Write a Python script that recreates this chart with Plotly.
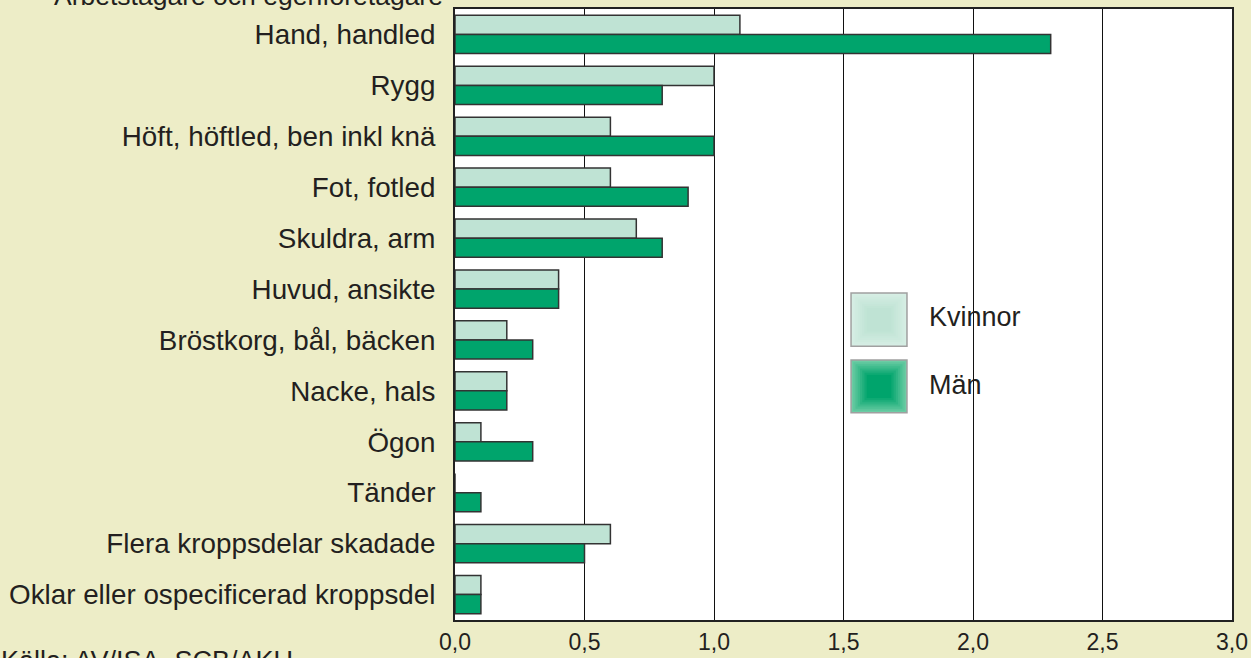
import plotly.graph_objects as go

kroppsdelar = [
    "Hand, handled",
    "Rygg",
    "Höft, höftled, ben inkl knä",
    "Fot, fotled",
    "Skuldra, arm",
    "Huvud, ansikte",
    "Bröstkorg, bål, bäcken",
    "Nacke, hals",
    "Ögon",
    "Tänder",
    "Flera kroppsdelar skadade",
    "Oklar eller ospecificerad kroppsdel",
]
kvinnor = [1.1, 1.0, 0.6, 0.6, 0.7, 0.4, 0.2, 0.2, 0.1, 0.0, 0.6, 0.1]
man = [2.3, 0.8, 1.0, 0.9, 0.8, 0.4, 0.3, 0.2, 0.3, 0.1, 0.5, 0.1]
x_ticks = [0, 0.5, 1.0, 1.5, 2.0, 2.5, 3.0]

bg = "#EDEDC7"
ljus = "#BFE3D4"
mork = "#00A46C"
txt = "#231F20"
fnt = "Liberation Sans, Arial, sans-serif"

fig = go.Figure()
fig.add_trace(go.Bar(
    y=kroppsdelar, x=kvinnor, orientation="h", name="Kvinnor",
    marker=dict(color=ljus, line=dict(color="#333333", width=1.5)),
))
fig.add_trace(go.Bar(
    y=kroppsdelar, x=man, orientation="h", name="Män",
    marker=dict(color=mork, line=dict(color="#333333", width=1.5)),
))


def mix(c1, c2, t):
    a = [int(c1[i:i + 2], 16) for i in (1, 3, 5)]
    b = [int(c2[i:i + 2], 16) for i in (1, 3, 5)]
    return "#%02x%02x%02x" % tuple(round(a[k] + (b[k] - a[k]) * t) for k in range(3))


# legend drawn by hand: big square swatches with a soft edge
legend = [("Kvinnor", ljus, "#D6EEE4", 0.535, 0.448, 0.496),
          ("Män", mork, "#6CCCA4", 0.4255, 0.339, 0.385)]
x0, x1 = 0.5097, 0.5817
for namn, col, kant, ytop, ybot, ytext in legend:
    steps = 8
    for s in range(steps):
        dx = (x1 - x0) * 0.04 * s
        dy = (ytop - ybot) * 0.04 * s
        fig.add_shape(type="rect", xref="paper", yref="paper",
                      x0=x0 + dx, x1=x1 - dx, y0=ybot + dy, y1=ytop - dy,
                      fillcolor=mix(kant, col, s / (steps - 1)),
                      line=dict(color="#A0A0A0" if s == 0 else "rgba(0,0,0,0)",
                                width=1.5 if s == 0 else 0))
    fig.add_annotation(text=namn, xref="paper", yref="paper",
                       x=0.608, y=ytext, xanchor="left", yanchor="middle",
                       showarrow=False, font=dict(size=27, color=txt, family=fnt))

fig.add_annotation(text="Arbetstagare och egenföretagare", xref="paper", yref="paper",
                   x=0, y=1, xshift=-10, yshift=13, xanchor="right", yanchor="middle",
                   showarrow=False, font=dict(size=26.5, color=txt, family=fnt))
fig.add_annotation(text="Källa: AV/ISA, SCB/AKU", xref="paper", yref="paper",
                   x=0, y=0, xshift=-456, yshift=-41, xanchor="left", yanchor="middle",
                   showarrow=False, font=dict(size=27, color=txt, family=fnt))

fig.update_layout(
    width=1251, height=658,
    paper_bgcolor=bg, plot_bgcolor="white",
    margin=dict(l=455, r=19, t=9, b=38),
    barmode="group", bargap=0.25, bargroupgap=0.0,
    showlegend=False,
    separators=", ",
    font=dict(family=fnt, color=txt, size=27),
    xaxis=dict(range=[0, 3], tickvals=x_ticks, tickformat=".1f",
               showgrid=True, gridcolor="#111111", gridwidth=1,
               showline=True, linecolor="#222222", linewidth=2, mirror=True,
               zeroline=False, ticks="", tickfont=dict(size=23),
               ticklabelstandoff=0, side="bottom", automargin=False),
    yaxis=dict(autorange="reversed", showgrid=False,
               showline=True, linecolor="#222222", linewidth=2, mirror=True,
               ticks="", ticklabelstandoff=12, tickfont=dict(size=27.8),
               automargin=False),
)

fig.write_html("out.html", config={"displayModeBar": False},
               post_script="document.body.style.margin='0';")
